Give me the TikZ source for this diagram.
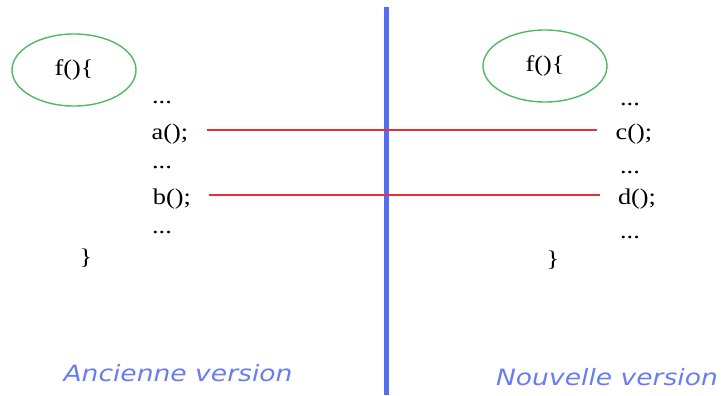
\documentclass[tikz,border=0pt]{standalone}
\usepackage{fontspec}
\usepackage{tikz}
\usetikzlibrary{shapes.geometric}
\setmainfont{Liberation Serif}
\newfontfamily\codefont[FakeStretch=1.17]{Liberation Serif}
\newfontfamily\labelfont[FakeStretch=1.18]{DejaVu Sans}
\definecolor{dividerblue}{RGB}{82,108,242}
\definecolor{labelblue}{RGB}{105,125,240}
\definecolor{ovalgreen}{RGB}{80,185,100}
\definecolor{linkred}{RGB}{235,45,55}

\begin{document}
\begin{tikzpicture}[x=0.025cm, y=-0.025cm,
        code/.style={font=\codefont\fontsize{16}{18}\selectfont, inner sep=0pt},
        oval/.style={ellipse, draw=ovalgreen, line width=1pt, minimum width=3.1cm, minimum height=1.8cm, inner sep=0pt, font=\codefont\fontsize{16}{18}\selectfont},
        link/.style={draw=linkred, line width=1pt, shorten <=0.45cm, shorten >=0.45cm},
        caption/.style={text=labelblue, inner sep=0pt, font=\labelfont\itshape\fontsize{16}{19}\selectfont}]
        \useasboundingbox (0,0) rectangle (722,395);

        % Nodes
        \node[oval] (fold) at (74,70) {f()\{};
        \node[code] (dotsA) at (162,102) {...};
        \node[code] (a) at (170,134) {a();};
        \node[code] (dotsB) at (162,167) {...};
        \node[code] (b) at (172,199) {b();};
        \node[code] (dotsC) at (162,232) {...};
        \node[code] (endold) at (86,258) {\}};

        \node[oval] (fnew) at (545,66) {f()\{};
        \node[code] (dotsD) at (630,104) {...};
        \node[code] (c) at (634,134) {c();};
        \node[code] (dotsE) at (630,172) {...};
        \node[code] (d) at (637,199) {d();};
        \node[code] (dotsF) at (630,237) {...};
        \node[code] (endnew) at (553,260) {\}};

        \node[caption] (old) at (178,373) {Ancienne version};
        \node[caption] (new) at (607,377) {Nouvelle version};

        \coordinate (top) at (386.5,7);
        \coordinate (bottom) at (386.5,395);

        % Edges
        \draw[dividerblue, line width=3.5pt] (top) -- (bottom);
        \draw[link] ([yshift=0.1cm]a.east) -- ([yshift=0.1cm]a.east -| c.west);
        \draw[link] ([yshift=0.1cm]b.east) -- ([yshift=0.1cm]b.east -| d.west);
    \end{tikzpicture}
\end{document}
